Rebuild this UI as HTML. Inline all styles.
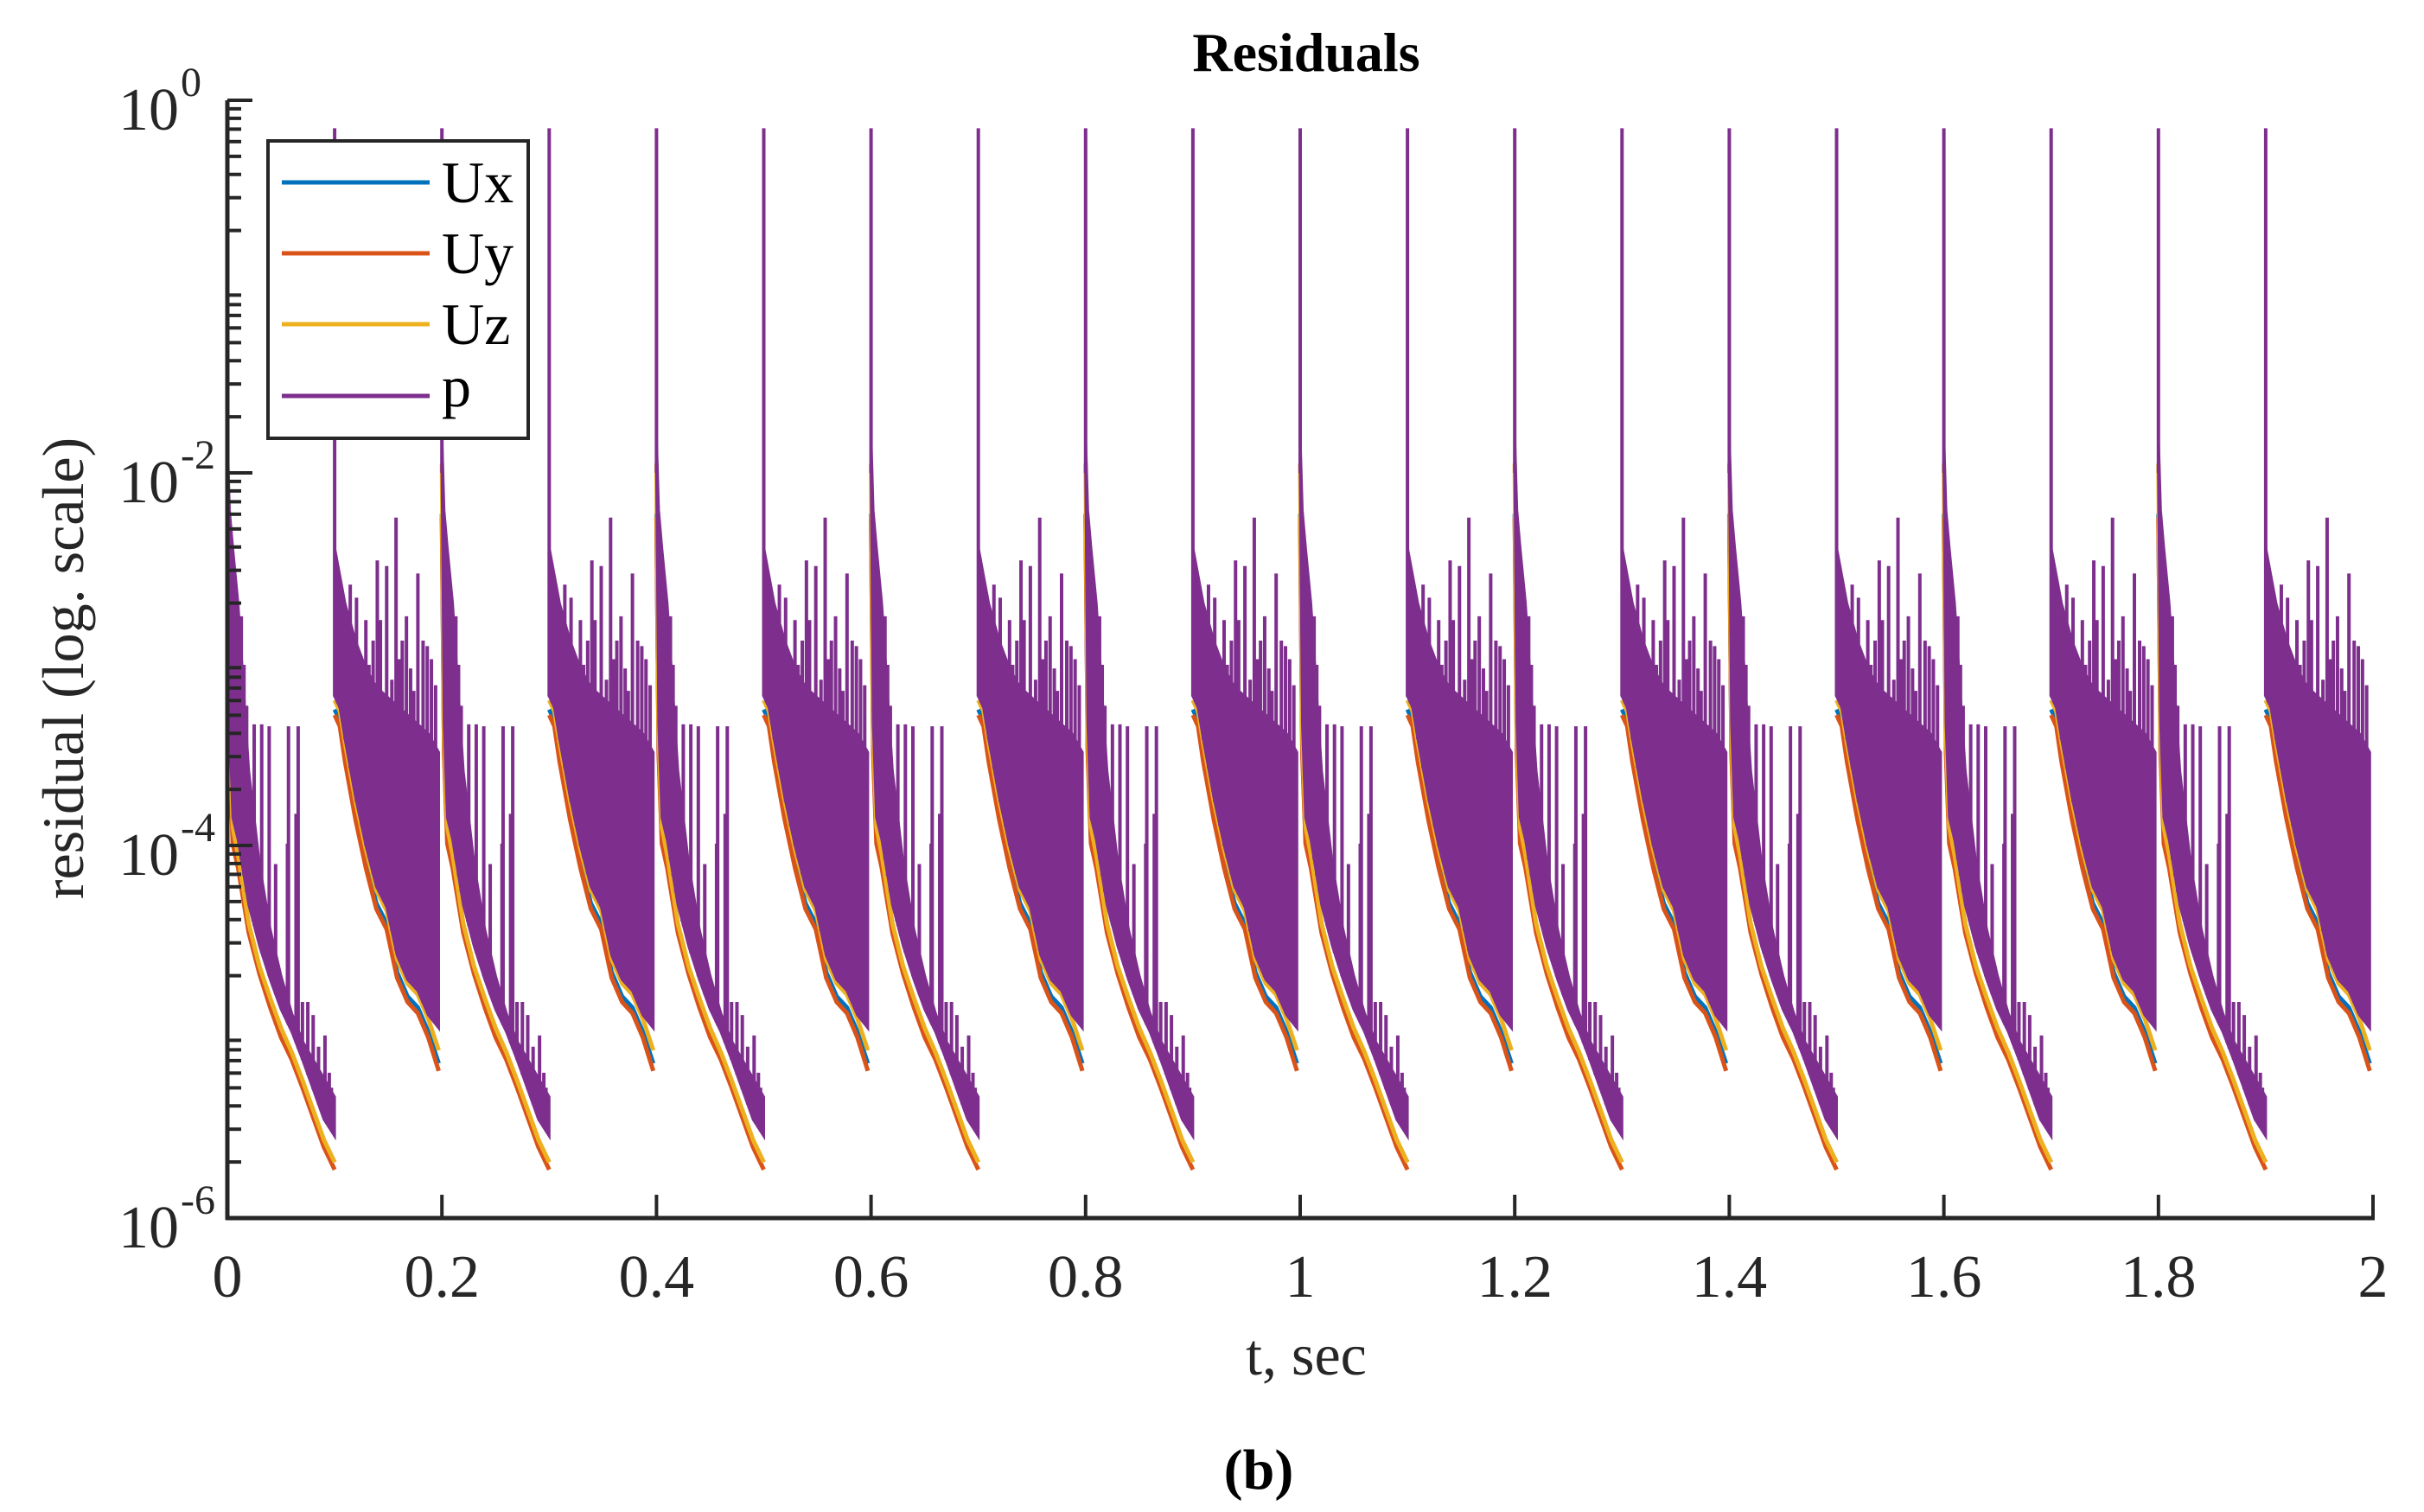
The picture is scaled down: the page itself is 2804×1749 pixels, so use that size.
<!DOCTYPE html>
<html><head><meta charset="utf-8">
<style>
html,body{margin:0;padding:0;background:#fff;}
svg{display:block;font-family:"Liberation Serif",serif;}
</style></head>
<body>
<svg id="chart" width="2804" height="1749" viewBox="0 0 2804 1749" xmlns="http://www.w3.org/2000/svg">
<text x="1511" y="82" font-size="64" font-weight="bold" text-anchor="middle" fill="#000">Residuals</text>
<g id="plot"></g>
<g id="axes"></g>
<text x="1511" y="1590" font-size="68" text-anchor="middle" fill="#262626">t, sec</text>
<text transform="translate(96,773) rotate(-90)" font-size="68" text-anchor="middle" fill="#262626">residual (log. scale)</text>
<text x="1456" y="1722" font-size="66" font-weight="bold" text-anchor="middle" fill="#000">(b)</text>
<g>
<rect x="310" y="163" width="301" height="344" fill="#fff" stroke="#262626" stroke-width="4"/>
<line x1="326" y1="211" x2="497" y2="211" stroke="#0072BD" stroke-width="5"/>
<text x="511" y="234" font-size="68" fill="#000">Ux</text>
<line x1="326" y1="293" x2="497" y2="293" stroke="#D95319" stroke-width="5"/>
<text x="511" y="316" font-size="68" fill="#000">Uy</text>
<line x1="326" y1="375" x2="497" y2="375" stroke="#EDB120" stroke-width="5"/>
<text x="511" y="398" font-size="68" fill="#000">Uz</text>
<line x1="326" y1="458" x2="497" y2="458" stroke="#7E2F8E" stroke-width="5"/>
<text x="511" y="470" font-size="68" fill="#000">p</text>
</g>
</svg>
<script>
// ---- data ----
const cycleStarts = [0,0.1,0.2,0.3,0.4,0.5,0.6,0.7,0.8,0.9,1.0,1.1,1.2,1.3,1.4,1.5,1.6,1.7,1.8,1.9];
const cycleTypes = ['A','B','A','B','A','B','A','B','A','B','A','B','A','B','A','B','A','B','A','B'];
const cycleDurA = 0.1;
const cycleDurB = 0.097;
const fracA = [0,0.02,0.05,0.1,0.2,0.3,0.4,0.5,0.6,0.7,0.8,0.9,1.0];
const uyA = [-2.24,-3.51,-3.99,-4.12,-4.47,-4.69,-4.87,-5.03,-5.15,-5.30,-5.46,-5.62,-5.74];
const uxA = [-2.22,-3.48,-3.96,-4.09,-4.44,-4.66,-4.84,-5.00,-5.12,-5.27,-5.43,-5.59,-5.70];
const uzA = [-1.95,-3.40,-3.90,-4.05,-4.42,-4.65,-4.82,-4.98,-5.11,-5.26,-5.42,-5.58,-5.70];
const pLowA = [-2.0,-3.35,-3.85,-3.97,-4.32,-4.54,-4.72,-4.88,-5.00,-5.15,-5.31,-5.47,-5.56];
const pUpA = [-1.8,-2.2,-2.4,-2.7,-3.6,-4.1,-4.45,-4.7,-4.9,-5.05,-5.15,-5.25,-5.35];
const fracB = [0,0.05,0.1,0.2,0.3,0.4,0.5,0.6,0.7,0.8,0.9,1.0];
const uyB = [-3.30,-3.36,-3.55,-3.86,-4.12,-4.34,-4.45,-4.71,-4.84,-4.90,-5.03,-5.21];
const uxB = [-3.27,-3.33,-3.52,-3.83,-4.09,-4.31,-4.42,-4.68,-4.81,-4.87,-5.00,-5.17];
const uzB = [-3.22,-3.28,-3.45,-3.76,-4.02,-4.24,-4.35,-4.61,-4.74,-4.80,-4.93,-5.10];
const pLowB = [-3.2,-3.26,-3.43,-3.74,-4.0,-4.22,-4.33,-4.59,-4.72,-4.78,-4.91,-4.98];
const pUpB = [-2.4,-2.55,-2.7,-2.9,-3.05,-3.15,-3.2,-3.25,-3.3,-3.35,-3.4,-3.5];
const startSpikeVal = -0.15;
const spikeFracA = [0.13,0.155,0.18,0.24,0.25,0.32,0.39,0.45,0.56,0.57,0.64,0.66,0.70,0.75,0.80,0.85,0.91,0.95,0.97];
const spikeValA = [-2.77,-3.03,-3.25,-4.2,-3.35,-3.35,-3.36,-4.1,-3.99,-3.36,-3.83,-3.36,-4.84,-4.84,-4.91,-5.08,-5.02,-5.22,-5.30];
const spikeFracB = [0.03,0.05,0.10,0.15,0.21,0.26,0.30,0.33,0.37,0.41,0.44,0.50,0.55,0.59,0.62,0.65,0.69,0.73,0.76,0.80,0.85,0.89,0.93,0.97];
const spikeValB = [-2.58,-2.63,-2.85,-2.6,-2.67,-3.0,-2.79,-3.03,-2.9,-2.47,-2.79,-2.50,-3.11,-2.24,-3.0,-2.9,-2.77,-3.05,-3.17,-2.54,-2.9,-2.93,-3.0,-3.14];
const xTicks = [0,0.2,0.4,0.6,0.8,1,1.2,1.4,1.6,1.8,2];
const xTickLabels = ['0','0.2','0.4','0.6','0.8','1','1.2','1.4','1.6','1.8','2'];
const yDecades = [0,-2,-4,-6];
const yDecadeLabels = ['0','-2','-4','-6'];

// ---- scales ----
const X0=263, X1=2745, Y0=116, Y1=1409;
const tMin=0, tMax=2, vMax=0, vMin=-6;
function xs(t){return X0+(t-tMin)/(tMax-tMin)*(X1-X0);}
function ys(v){return Y0+(vMax-v)/(vMax-vMin)*(Y1-Y0);}
function interp(fr,vals,f){
  for(let i=1;i<fr.length;i++){ if(f<=fr[i]){const a=(f-fr[i-1])/(fr[i]-fr[i-1]);return vals[i-1]+a*(vals[i]-vals[i-1]);} }
  return vals[vals.length-1];
}
const NS='http://www.w3.org/2000/svg';
const plot=document.getElementById('plot');
const axes=document.getElementById('axes');
function mk(tag,attrs,parent){const e=document.createElementNS(NS,tag);for(const k in attrs)e.setAttribute(k,attrs[k]);parent.appendChild(e);return e;}

const series=[
 {name:'ux',color:'#0072BD',A:uxA,B:uxB},
 {name:'uy',color:'#D95319',A:uyA,B:uyB},
 {name:'uz',color:'#EDB120',A:uzA,B:uzB}
];
series.forEach(s=>{
  const g=mk('g',{},plot);
  
  
  cycleStarts.forEach((t0,ci)=>{
    const typ=cycleTypes[ci];
    const fr=typ==='A'?fracA:fracB, vals=typ==='A'?s.A:s.B, dur=typ==='A'?cycleDurA:cycleDurB;
    const pts=fr.map((f,i)=>xs(t0+f*dur).toFixed(1)+','+ys(vals[i]).toFixed(1)).join(' ');
    const pl=mk('polyline',{points:pts,fill:'none',stroke:s.color,'stroke-width':5,'stroke-linejoin':'round'},g);
    
    
  });
});

const pg=mk('g',{},plot);


cycleStarts.forEach((t0,ci)=>{
  const typ=cycleTypes[ci];
  const fr=typ==='A'?fracA:fracB, lo=typ==='A'?pLowA:pLowB, up=typ==='A'?pUpA:pUpB, dur=typ==='A'?cycleDurA:cycleDurB;
  const sf=typ==='A'?spikeFracA:spikeFracB, sv=typ==='A'?spikeValA:spikeValB;
  let pts=fr.map((f,i)=>xs(t0+f*dur).toFixed(1)+','+ys(up[i]).toFixed(1));
  pts=pts.concat(fr.slice().reverse().map((f,i)=>xs(t0+f*dur).toFixed(1)+','+ys(lo[lo.length-1-i]).toFixed(1)));
  const band=mk('polygon',{points:pts.join(' '),fill:'#7E2F8E',stroke:'#7E2F8E','stroke-width':3},pg);
  
  
  const st=mk('line',{x1:xs(t0),x2:xs(t0),y1:ys(interp(fr,lo,0)),y2:ys(startSpikeVal),stroke:'#7E2F8E','stroke-width':4},pg);
  
  
  sf.forEach((f,i)=>{
    const x=xs(t0+f*dur);
    const ln=mk('line',{x1:x,x2:x,y1:ys(interp(fr,lo,f)),y2:ys(sv[i]),stroke:'#7E2F8E','stroke-width':4},pg);
    
    
  });
});

const axL=mk('line',{x1:X0,y1:Y0,x2:X0,y2:Y1+2,stroke:'#262626','stroke-width':5},axes);


const axB=mk('line',{x1:X0-2,y1:Y1,x2:X1+2,y2:Y1,stroke:'#262626','stroke-width':5},axes);


xTicks.forEach((t,i)=>{
  const x=xs(t);
  const tk=mk('line',{x1:x,x2:x,y1:Y1,y2:Y1-27,stroke:'#262626','stroke-width':4},axes);
  
  
  const lb=mk('text',{x:x,y:1500,'font-size':70,'text-anchor':'middle',fill:'#262626'},axes);
  lb.textContent=xTickLabels[i];
  
  
});
for(let d=0;d>-6;d--){
  for(let k=2;k<=9;k++){
    const y=ys(d-1+Math.log10(k));
    const mt=mk('line',{x1:X0,x2:X0+16,y1:y,y2:y,stroke:'#262626','stroke-width':4},axes);
    
    
  }
}
yDecades.forEach((v,i)=>{
  const y=ys(v);
  const tk=mk('line',{x1:X0,x2:X0+29,y1:y,y2:y,stroke:'#262626','stroke-width':4},axes);
  
  
  const lb=mk('text',{x:207,y:y+34,'font-size':70,'text-anchor':'end',fill:'#262626'},axes);
  lb.textContent='10';
  
  
  const sp=mk('text',{x:209,y:y-5,'font-size':48,'text-anchor':'start',fill:'#262626'},axes);
  sp.textContent=yDecadeLabels[i];
  
  
});
</script>
</body></html>
